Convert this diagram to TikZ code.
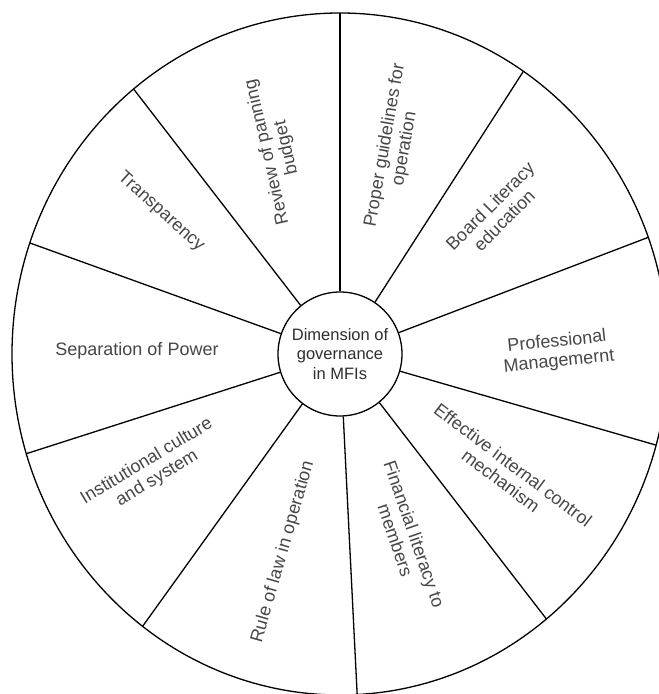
\documentclass[tikz,border=0pt]{standalone}
\usepackage{fontspec}
\setmainfont{Liberation Sans}
\usepackage{tikz}
\def\cx{340}
\def\cy{340}
\def\rayonx{328}
\def\rayony{341}

\begin{document}
\begin{tikzpicture}[x=1pt, y=1pt, line width=1.3pt,
	etiquette/.style={text=black!72, font=\fontsize{18}{20}\selectfont, align=center}]
	\useasboundingbox (0,0) rectangle (659,694);
	\clip (0,0) rectangle (659,694);
	\fill[white] (0,0) rectangle (659,694);
	%\draw[step=50, line width=0.2pt, black!20!white] (0,0) grid (659,694);
	\coordinate (centre) at (\cx,\cy);
	\draw (centre) ellipse [x radius=\rayonx, y radius=\rayony];
	\node[draw, circle, fill=white, minimum size=124pt, inner sep=0pt, align=center, text=black!82, font=\fontsize{16.5}{19.5}\selectfont] (dim) at (centre) {Dimension of\\governance\\in MFIs};
	\foreach \a [count=\i] in {90,56,20,344.5,309,273,233,197,161,129} {
		\coordinate (bord\i) at ({\cx+\rayonx*cos(\a)},{\cy+\rayony*sin(\a)});
		\draw (dim.\a) -- (bord\i);
	}
	\node[etiquette, rotate=103] (revue) at (277,544) {Review of panning\\budget};
	\node[etiquette, rotate=80] (guide) at (395,547) {Proper guidelines for\\operation};
	\node[etiquette, rotate=45] (conseil) at (497,481) {Board Literacy\\education};
	\node[etiquette, rotate=6] (gestion) at (558,342) {Professional\\Managemernt};
	\node[etiquette, rotate=-37] (controle) at (507,221) {Effective internal control\\mechanism};
	\node[etiquette, rotate=-71] (membres) at (405,157) {Financial literacy to\\members};
	\node[etiquette, rotate=74] (loi) at (283,142) {Rule of law in operation};
	\node[etiquette, rotate=31] (culture) at (152,224) {Institutional culture\\and system};
	\node[etiquette] (pouvoir) at (137,343) {Separation of Power};
	\node[etiquette, rotate=-42] (transp) at (161,482) {Transparency};
\end{tikzpicture}
\end{document}
